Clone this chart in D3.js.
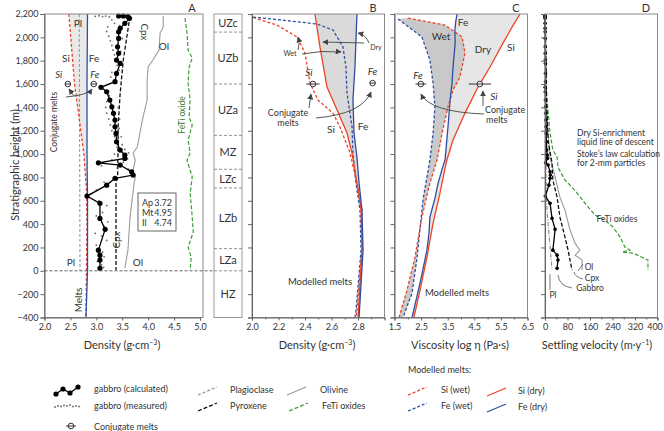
<!DOCTYPE html>
<html><head><meta charset="utf-8">
<script src="https://cdn.jsdelivr.net/npm/d3@7"></script>
<style>
body{margin:0;background:#fff;}
svg{font-family:Lato,"Open Sans",sans-serif;}
</style></head><body>
<svg id="c" width="664" height="431"></svg>
<script>
// ---------------- DATA ----------------
const heightTicks = [-400,-200,0,200,400,600,800,1000,1200,1400,1600,1800,2000,2200];
const densityTicksA = [2.0,2.5,3.0,3.5,4.0,4.5,5.0];
const densityTicksB = [2.0,2.2,2.4,2.6,2.8];
const viscTicks = [1.5,2.5,3.5,4.5,5.5,6.5];
const velTicks = [0,80,160,240,320,400];
const zones = [["UZc",2200,2045],["UZb",2045,1600],["UZa",1600,1160],["MZ",1160,870],["LZc",870,710],["LZb",710,190],["LZa",190,0],["HZ",0,-400]];

// Panel A: density (g/cm3) vs height (m)
const gabbroCalc = [[3.43,2183],[3.52,2183],[3.61,2177],[3.64,2163],[3.55,2120],[3.46,2077],[3.43,2048],[3.43,1991],[3.41,1919],[3.43,1863],[3.39,1805],[3.46,1777],[3.39,1691],[3.36,1620],[3.09,1572],[3.20,1534],[3.26,1463],[3.30,1405],[3.33,1349],[3.36,1292],[3.36,1234],[3.38,1177],[3.39,1105],[3.46,1034],[3.55,991],[3.55,963],[3.04,925],[3.46,906],[3.68,848],[3.71,820],[3.36,792],[3.20,734],[2.82,640],[3.07,578],[3.07,449],[3.17,355],[3.04,177],[3.07,134],[3.07,92],[3.07,21]];
const gabbroMeas = [[2.98,2180],[3.05,2185],[3.12,2178],[3.18,2182],[3.25,2175],[3.30,2150],[3.35,2120],[3.22,2090],[3.20,2050],[3.24,2010],[3.27,1970],[3.30,1930],[3.32,1890],[3.35,1850],[3.37,1810],[3.40,1760],[3.44,1720],[3.47,1880],[3.50,1990],[3.45,2100],[3.30,1700],[3.28,1660],[3.25,1500],[3.20,1450],[3.18,1400],[3.20,1350],[3.24,1300],[3.27,1250],[3.30,1200],[3.35,1150],[3.42,1400],[3.45,1300],[3.44,1220],[3.48,1150],[3.50,1080],[3.40,1060],[3.55,1040],[3.62,1010],[3.35,1000],[3.60,960],[3.30,950],[3.52,930],[3.40,880],[3.62,870],[3.10,900],[3.15,760],[3.00,690],[2.90,660],[3.05,600],[3.20,560],[3.12,500],[3.00,470],[3.22,420],[3.15,380],[2.98,320],[3.10,300],[3.20,260],[3.00,220],[3.05,190],[3.12,160],[3.15,120],[3.02,80],[3.10,50],[3.14,30],[3.08,10]];
const plA = [[2.67,2200],[2.685,0]];
const cpxA = [[3.65,2183],[3.52,1806],[3.46,1523],[3.42,1232],[3.42,1094],[3.41,794],[3.38,752],[3.38,6]];
const olA = [[4.29,2183],[4.29,2088],[4.23,2037],[4.21,1891],[4.09,1806],[4.00,1746],[3.98,1634],[3.98,1463],[3.90,1317],[3.84,1180],[3.79,1060],[3.71,1009],[3.75,948],[3.71,863],[3.75,800],[3.73,752],[3.69,606],[3.65,460],[3.63,323],[3.61,177],[3.55,23]];
const fetiA = [[4.71,2165],[4.75,2037],[4.77,1891],[4.85,1823],[4.79,1746],[4.77,1608],[4.81,1463],[4.79,1317],[4.85,1249],[4.77,1120],[4.81,1009],[4.75,948],[4.85,803],[4.81,666],[4.85,460],[4.87,331],[4.77,203],[4.83,117],[4.81,6]];
const siMeltA = [[2.47,2200],[2.58,1600],[2.70,1200],[2.76,1000],[2.81,700],[2.82,400],[2.81,0],[2.80,-400]];
const feMeltA = [[2.83,2200],[2.82,1600],[2.82,1000],[2.83,600],[2.83,0],[2.80,-400]];
const conjA = [["Si",2.45,1600],["Fe",2.95,1600]];
const modeA = [["Ap","3.72"],["Mt","4.95"],["Il","4.74"]];

// Panel B: melt density
const bSiWet = [[2.008,2170],[2.189,2105],[2.34,2003],[2.40,1865],[2.438,1608],[2.498,1463],[2.611,1351],[2.664,1232],[2.74,1009],[2.792,751],[2.83,520],[2.83,177],[2.792,-337],[2.785,-400]];
const bFeWet = [[2.008,2174],[2.362,2131],[2.491,2114],[2.611,2063],[2.687,1917],[2.709,1746],[2.717,1523],[2.755,1232],[2.762,1009],[2.785,751],[2.815,520],[2.823,177],[2.785,-337],[2.777,-400]];
const bSiDry = [[2.475,2200],[2.513,1917],[2.566,1574],[2.642,1377],[2.717,1180],[2.755,1009],[2.792,751],[2.823,520],[2.83,177],[2.80,-400]];
const bFeDry = [[2.792,2200],[2.777,1746],[2.762,1463],[2.77,1180],[2.792,975],[2.808,751],[2.83,520],[2.838,177],[2.808,-400]];
const conjB = [["Si",2.46,1600,0.05],["Fe",2.91,1608,0]];

// Panel C: viscosity log eta
const cFeWet = [[1.63,2157],[2.53,2003],[2.83,1806],[2.95,1608],[3.02,1403],[2.95,1180],[2.83,949],[2.57,606],[2.35,117],[2.16,-191],[1.82,-400]];
const cSiWet = [[2.01,2165],[3.40,2105],[4.04,2003],[4.15,1865],[3.96,1660],[3.70,1549],[3.51,1403],[3.29,1180],[3.10,949],[2.83,751],[2.53,460],[2.27,117],[1.97,-165],[1.67,-400]];
const cFeDry = [[3.85,2200],[3.80,2130],[3.77,2063],[3.78,1950],[3.70,1746],[3.66,1600],[3.59,1463],[3.51,1232],[3.40,949],[3.30,880],[3.14,751],[3.02,620],[2.83,460],[2.80,330],[2.72,177],[2.46,-106],[2.16,-400]];
const cSiDry = [[6.22,2200],[5.95,2100],[5.58,1951],[5.09,1746],[4.64,1574],[4.15,1351],[3.70,1120],[3.47,949],[3.40,880],[3.21,666],[2.95,409],[2.72,117],[2.46,-165],[2.23,-400]];
const conjC = [["Fe",2.49,1600,0.2],["Si",4.71,1600,0.42]];

// Panel D: settling velocity (m/y)
const dGabbro = [[0.3,2183],[0.4,2183],[0.5,2177],[0.5,2163],[0.6,2120],[0.6,2077],[0.7,2048],[0.8,1991],[0.9,1919],[1,1863],[1.2,1805],[1.5,1777],[1.6,1691],[1.8,1620],[0.5,1572],[1,1534],[1.5,1463],[2,1405],[2.5,1349],[3,1292],[3.5,1234],[4,1177],[5,1105],[6,1034],[8,991],[9,963],[2,925],[11,906],[18,848],[19,820],[18,792],[14,734],[1,640],[18,578],[25,449],[36,355],[28,177],[43,134],[46,92],[43,21]];
const dCpx = [[1,2200],[3,1800],[6,1400],[12,1100],[25,923],[28,777],[43,631],[53,460],[71,289],[82,177],[89,92],[96,6]];
const dOl = [[1,2200],[5,1500],[10,1200],[18,972],[36,802],[53,631],[71,520],[89,349],[107,237],[124,177],[107,134],[132,92],[132,6]];
const dPl = [[0,2200],[2,1200],[4,800],[7,520],[25,6]];
const dFeTi = [[0,2150],[2,1800],[6,1500],[18,1180],[28,1034],[43,975],[46,888],[71,777],[96,717],[114,666],[142,580],[178,477],[213,434],[242,374],[267,289],[284,203],[302,177],[274,160],[313,152],[366,92],[366,6]];

// ---------------- DRAW ----------------
const RED="#ee4326", BLUE="#2f4ea3", GREEN="#3c9e35", GRAY="#9b9b9b", TXT="#333";
const svg = d3.select("#c");
const defs = svg.append("defs");
defs.append("marker").attr("id","ar").attr("viewBox","0 0 10 10").attr("refX",9).attr("refY",5)
  .attr("markerWidth",6).attr("markerHeight",6).attr("markerUnits","userSpaceOnUse").attr("orient","auto")
  .append("path").attr("d","M0,0L10,5L0,10z").attr("fill","#444");

const Y0=14, Y1=317.5;
const y = d3.scaleLinear().domain([-400,2200]).range([Y1,Y0]);
const xA = d3.scaleLinear().domain([2,5]).range([44.5,200]);
const xB = d3.scaleLinear().domain([2,3]).range([252,384.5]);
const xC = d3.scaleLinear().domain([1.5,6.5]).range([394.5,527.5]);
const xD = d3.scaleLinear().domain([0,400]).range([545,657.5]);

function line(g,data,xs,col,dash,w){
  g.append("path").datum(data).attr("d",d3.line().x(d=>xs(d[0])).y(d=>y(d[1])))
   .attr("fill","none").attr("stroke",col).attr("stroke-width",w||1.2)
   .attr("stroke-dasharray",dash||null);
}
function band(g,a,b,xs,fill){
  const pts = a.concat(b.slice().reverse());
  g.append("path").attr("d",d3.line().x(d=>xs(d[0])).y(d=>y(d[1]))(pts)+"Z").attr("fill",fill).attr("stroke","none");
}
function txt(x,yy,s,o){
  o=o||{};
  const t=svg.append("text").attr("x",x).attr("y",yy).text(s)
   .attr("font-size",o.size||9).attr("fill",o.fill||TXT).attr("text-anchor",o.anchor||"middle");
  if(o.italic) t.attr("font-style","italic");
  if(o.rot) t.attr("transform",`rotate(${o.rot},${x},${yy})`);
  return t;
}
function arrow(d){ svg.append("path").attr("d",d).attr("fill","none").attr("stroke","#444").attr("stroke-width",0.9).attr("marker-end","url(#ar)"); }
function conj(g,cx,cy,x0,x1){
  if(x1>x0) g.append("line").attr("x1",x0).attr("x2",x1).attr("y1",cy).attr("y2",cy).attr("stroke","#333").attr("stroke-width",1);
  g.append("circle").attr("cx",cx).attr("cy",cy).attr("r",2.8).attr("fill","#fff").attr("stroke","#333").attr("stroke-width",1);
  g.append("line").attr("x1",cx-2.8).attr("x2",cx+2.8).attr("y1",cy).attr("y2",cy).attr("stroke","#333").attr("stroke-width",1);
}
function frame(x0,x1){
  svg.append("rect").attr("x",x0).attr("y",Y0).attr("width",x1-x0).attr("height",Y1-Y0)
   .attr("fill","none").attr("stroke","#8a8a8a").attr("stroke-width",1);
}
function styleAxis(g){
  g.selectAll("path").attr("stroke","#666");
  g.selectAll("line").attr("stroke","#666");
  g.selectAll("text").attr("fill",TXT).attr("font-size",9).attr("font-family","Lato");
}
function yAxis(x0,labels){
  const ax = d3.axisLeft(y).tickValues(heightTicks).tickSize(4).tickPadding(2);
  if(!labels) ax.tickFormat("");
  const g = svg.append("g").attr("transform",`translate(${x0},0)`).call(ax);
  styleAxis(g);
}
function xAxis(xs,major,minor,fmt){
  if(minor){
    const gm = svg.append("g").attr("transform",`translate(0,${Y1})`).call(d3.axisBottom(xs).tickValues(minor).tickSize(2).tickFormat(""));
    gm.select(".domain").remove(); styleAxis(gm);
  }
  const g = svg.append("g").attr("transform",`translate(0,${Y1})`).call(d3.axisBottom(xs).tickValues(major).tickSize(3).tickPadding(3).tickFormat(fmt));
  styleAxis(g);
  return g;
}
function xTitle(x,s,sup,after){
  const t=svg.append("text").attr("x",x).attr("y",349).attr("text-anchor","middle").attr("font-size",11).attr("fill",TXT);
  t.append("tspan").text(s);
  if(sup){ t.append("tspan").text(sup).attr("font-size",7).attr("dy",-4); t.append("tspan").text(after).attr("dy",4); }
}

// ---- Panel A ----
const gA = svg.append("g");
band(gA,siMeltA,feMeltA.filter(d=>d[1]>=600),xA,"#e9e9e9");
frame(44.5,203);
svg.append("line").attr("x1",44.5).attr("x2",214).attr("y1",y(0)).attr("y2",y(0)).attr("stroke","#555").attr("stroke-dasharray","3,2").attr("stroke-width",0.9);
line(gA,plA,xA,GRAY,"3,2",1.1);
line(gA,olA,xA,GRAY,null,1.1);
line(gA,fetiA,xA,GREEN,"4,2",1.2);
line(gA,cpxA,xA,"#111","4,2",1.3);
line(gA,siMeltA,xA,RED,"3,2",1.3);
line(gA,feMeltA,xA,BLUE,null,1.3);
gA.selectAll(".m").data(gabbroMeas).enter().append("circle").attr("cx",d=>xA(d[0])).attr("cy",d=>y(d[1])).attr("r",0.9).attr("fill","#666");
line(gA,gabbroCalc,xA,"#000",null,1.3);
gA.selectAll(".g").data(gabbroCalc).enter().append("circle").attr("cx",d=>xA(d[0])).attr("cy",d=>y(d[1])).attr("r",2.6).attr("fill","#000");
conjA.forEach(c=>{conj(gA,xA(c[1]),y(c[2]),0,0); txt(xA(c[1])+(c[0]=="Si"?-9:1),y(c[2])-6,c[0],{italic:true,size:9.5});});
yAxis(44.5,true);
xAxis(xA,densityTicksA,null,d3.format(".1f"));
txt(78,27,"Pl",{size:10}); txt(71,266,"Pl",{size:10});
txt(66,62,"Si",{size:10}); txt(94,62,"Fe",{size:10});
txt(164,50,"Ol",{size:10}); txt(138,266,"Ol",{size:10});
txt(141,32,"Cpx",{size:10,rot:90});
txt(120,240,"Cpx",{size:10,rot:-90});
txt(185,115,"FeTi oxide",{size:8.5,rot:-90,fill:"#3a7d2e"});
txt(82,300,"Melts",{size:10,rot:-90});
txt(57,122,"Conjugate melts",{size:8.5,rot:-90});
arrow("M66,97 Q88,95 92,89");
arrow("M74,96 L69,89");
svg.append("rect").attr("x",138).attr("y",193).attr("width",38).attr("height",38).attr("fill","#fff").attr("stroke","#555").attr("stroke-width",0.9);
modeA.forEach((m,i)=>{ txt(142,206+i*10,m[0],{anchor:"start",size:9}); txt(172,206+i*10,m[1],{anchor:"end",size:9}); });
txt(192,12,"A",{size:11});
txt(19,165,"Stratigraphic height (m)",{size:11,rot:-90});
xTitle(122,"Density (g·cm","−3",")");

// ---- Stratigraphic column ----
svg.append("rect").attr("x",214).attr("y",Y0).attr("width",28).attr("height",Y1-Y0).attr("fill","none").attr("stroke","#999");
zones.forEach((z,i)=>{
  if(i>0) svg.append("line").attr("x1",214).attr("x2",242).attr("y1",y(z[1])).attr("y2",y(z[1])).attr("stroke","#888").attr("stroke-dasharray","3,2").attr("stroke-width",0.9);
  txt(228,(y(z[1])+y(z[2]))/2+4,z[0],{size:11});
});

// ---- Panel B ----
const gB = svg.append("g");
band(gB,bSiDry,bFeDry,xB,"#dadada");
frame(252,384.5);
line(gB,bSiWet,xB,RED,"3,2",1.3);
line(gB,bFeWet,xB,BLUE,"3,2",1.3);
line(gB,bSiDry,xB,RED,null,1.3);
line(gB,bFeDry,xB,BLUE,null,1.3);
conjB.forEach(c=>{conj(gB,xB(c[1]),y(c[2]),xB(c[1]-c[3]),xB(c[1]+c[3])); txt(xB(c[1])-(c[0]=="Si"?4:0),y(c[2])-8,c[0],{italic:true,size:10});});
yAxis(252,false);
xAxis(xB,densityTicksB,[2.1,2.3,2.5,2.7,2.9,3.0],d3.format(".1f"));
txt(290,56,"Wet",{size:7});
arrow("M298,50 Q300,44 298,37");
arrow("M302,54 Q322,50 341,52");
txt(376,50,"Dry",{size:7});
arrow("M364,43 L323,42");
arrow("M369,43 Q366,35 358,33");
txt(288,116,"Conjugate",{size:9}); txt(288,126,"melts",{size:9});
arrow("M309,108 L311,94");
arrow("M316,118 Q362,114 371,92");
txt(331,133,"Si",{size:10}); txt(363,130,"Fe",{size:10});
txt(320,285,"Modelled melts",{size:9.5});
txt(373,12,"B",{size:11});
xTitle(317,"Density (g·cm","−3",")");

// ---- Panel C ----
const gC = svg.append("g");
band(gC,cFeDry,cSiDry,xC,"#e6e6e6");
band(gC,cFeWet,cSiWet,xC,"#c9c9c9");
frame(394.5,527.5);
line(gC,cFeWet,xC,BLUE,"3,2",1.3);
line(gC,cSiWet,xC,RED,"3,2",1.3);
line(gC,cFeDry,xC,BLUE,null,1.3);
line(gC,cSiDry,xC,RED,null,1.3);
conjC.forEach(c=>{conj(gC,xC(c[1]),y(c[2]),xC(c[1]-c[3]),xC(c[1]+c[3]));});
txt(418,79,"Fe",{italic:true,size:10}); txt(494,100,"Si",{italic:true,size:10});
yAxis(394.5,false);
xAxis(xC,viscTicks,[2,3,4,5,6],d3.format(".1f"));
txt(463,26,"Fe",{size:10}); txt(441,40,"Wet",{size:10}); txt(483,53,"Dry",{size:10}); txt(511,51,"Si",{size:10});
txt(485,113,"Conjugate",{size:9,anchor:"start"}); txt(486,123,"melts",{size:9,anchor:"start"});
arrow("M483,106 L483,91");
arrow("M484,114 Q430,112 421,94");
txt(457,296,"Modelled melts",{size:9.5});
txt(516,12,"C",{size:11});
xTitle(460,"Viscosity log η (Pa·s)");

// ---- Panel D ----
const gD = svg.append("g");
frame(545,657.5);
line(gD,dFeTi,xD,GREEN,"4,2",1.2);
line(gD,dOl,xD,GRAY,null,1.1);
line(gD,dPl,xD,"#888","4,1.5,1,1.5",1.1);
line(gD,dCpx,xD,"#111","4,2",1.3);
line(gD,dGabbro,xD,"#000",null,1.3);
gD.selectAll(".g").data(dGabbro).enter().append("circle").attr("cx",d=>xD(d[0])).attr("cy",d=>y(d[1])).attr("r",1.8).attr("fill","#000");
yAxis(545,false);
const gxD = xAxis(xD,velTicks,[40,120,200,280,360],d3.format("d"));
gxD.selectAll(".tick text").filter(d=>d===400).attr("dx",-3);
txt(577,136,"Dry Si-enrichment",{size:8.5,anchor:"start"});
txt(577,145,"liquid line of descent",{size:8.5,anchor:"start"});
txt(577,157,"Stoke’s law calculation",{size:8.5,anchor:"start"});
txt(577,166,"for 2-mm particles",{size:8.5,anchor:"start"});
txt(617,222,"FeTi oxides",{size:8.5,anchor:"middle"});
txt(589,270,"Ol",{size:8.5,anchor:"middle"});
svg.append("path").attr("d","M583,264 L578,271").attr("stroke","#555").attr("fill","none").attr("stroke-width",0.8);
txt(592,281,"Cpx",{size:8.5,anchor:"middle"});
svg.append("path").attr("d","M574,272 Q575,277 583,279").attr("stroke","#555").attr("fill","none").attr("stroke-width",0.8);
txt(590,291,"Gabbro",{size:8.5,anchor:"middle"});
svg.append("path").attr("d","M558,275 Q559,286 572,288").attr("stroke","#555").attr("fill","none").attr("stroke-width",0.8);
txt(553,298,"Pl",{size:8.5,anchor:"middle"});
svg.append("path").attr("d","M550,290 L550,274").attr("stroke","#555").attr("fill","none").attr("stroke-width",0.8);
txt(646,12,"D",{size:11});
xTitle(597,"Settling velocity (m·y","−1",")");

// ---- Legend ----
const L = svg.append("g");
const legCalc = [[0,0],[7,-5],[14,-1],[22,-7]];
L.append("path").attr("d",d3.line()(legCalc.map(p=>[56+p[0],394+p[1]]))).attr("stroke","#000").attr("fill","none").attr("stroke-width",1.3);
legCalc.forEach(p=>L.append("circle").attr("cx",56+p[0]).attr("cy",394+p[1]).attr("r",2.6).attr("fill","#000"));
[[0,1],[3,0],[6,0.5],[9,-0.5],[12,0],[15,-1],[18,0.5],[21,0],[24,0.5]].forEach(p=>L.append("circle").attr("cx",55+p[0]).attr("cy",406+p[1]).attr("r",0.9).attr("fill","#666"));
conj(L,71,426,66,76);
txt(94,392,"gabbro (calculated)",{anchor:"start"});
txt(94,409,"gabbro (measured)",{anchor:"start"});
txt(94,430,"Conjugate melts",{anchor:"start"});
const legItems = [
 ["Plagioclase",GRAY,"3,2",198,392,230],["Pyroxene","#111","4,2",198,408,230],
 ["Olivine",GRAY,null,287,392,320],["FeTi oxides",GREEN,"4,2",289,408,322],
 ["Si (wet)",RED,"3,2",408,392,441],["Fe (wet)",BLUE,"3,2",408,408,441],
 ["Si (dry)",RED,null,487,393,518],["Fe (dry)",BLUE,null,487,409,518]];
legItems.forEach(it=>{
  L.append("line").attr("x1",it[3]).attr("x2",it[3]+19).attr("y1",it[4]+3).attr("y2",it[4]-5)
   .attr("stroke",it[1]).attr("stroke-dasharray",it[2]).attr("stroke-width",1.3);
  txt(it[5],it[4]+1,it[0],{anchor:"start"});
});
txt(408,373,"Modelled melts:",{anchor:"start"});
</script></body></html>
